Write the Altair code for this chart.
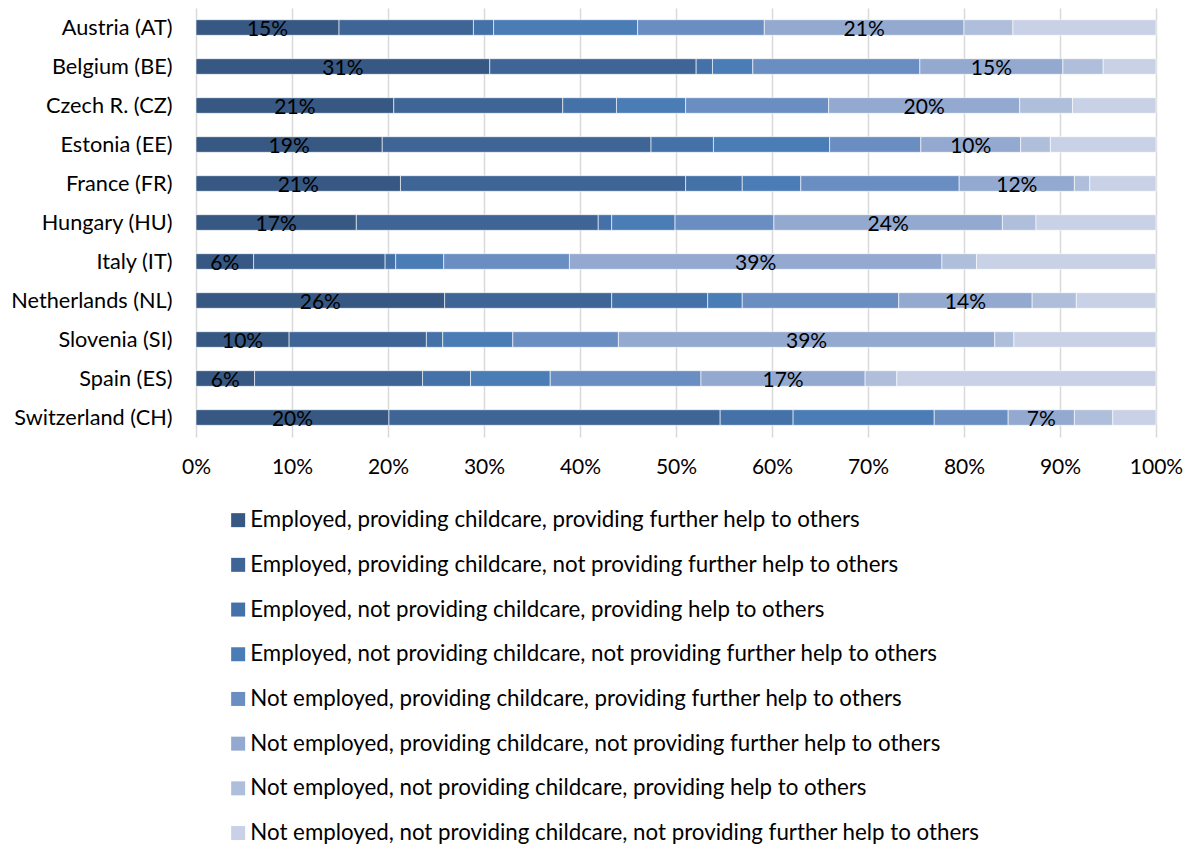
import altair as alt
import pandas as pd

countries = ["Austria (AT)", "Belgium (BE)", "Czech R. (CZ)", "Estonia (EE)", "France (FR)",
             "Hungary (HU)", "Italy (IT)", "Netherlands (NL)", "Slovenia (SI)", "Spain (ES)",
             "Switzerland (CH)"]

series = [
    "Employed, providing childcare, providing further help to others",
    "Employed, providing childcare, not providing further help to others",
    "Employed, not providing childcare, providing help to others",
    "Employed, not providing childcare, not providing further help to others",
    "Not employed, providing childcare, providing further help to others",
    "Not employed, providing childcare, not providing further help to others",
    "Not employed, not providing childcare, providing help to others",
    "Not employed, not providing childcare, not providing further help to others",
]

colors = ["#365883", "#3E6596", "#4471A7", "#4A7CB6", "#6A8EC2", "#93A9D0", "#AFBFDB", "#C8D1E5"]

emp_cc_help      = [14.9, 30.6, 20.6, 19.4, 21.3, 16.7, 6.0, 25.9, 9.7, 6.1, 20.1]
emp_cc_nohelp    = [14.0, 21.5, 17.6, 28.0, 29.7, 25.2, 13.7, 17.4, 14.3, 17.5, 34.5]
emp_nocc_help    = [2.1, 1.7, 5.6, 6.5, 5.9, 1.4, 1.1, 10.0, 1.7, 5.0, 7.6]
emp_nocc_nohelp  = [15.0, 4.2, 7.2, 12.1, 6.1, 6.6, 5.0, 3.6, 7.3, 8.3, 14.7]
nemp_cc_help     = [13.2, 17.4, 14.9, 9.5, 16.5, 10.3, 13.1, 16.3, 11.0, 15.7, 7.7]
nemp_cc_nohelp   = [20.8, 14.9, 19.9, 10.4, 12.0, 23.8, 38.8, 13.9, 39.2, 17.1, 6.9]
nemp_nocc_help   = [5.1, 4.2, 5.5, 3.1, 1.6, 3.5, 3.6, 4.6, 2.0, 3.3, 4.0]
nemp_nocc_nohelp = [14.9, 5.5, 8.7, 11.0, 6.9, 12.5, 18.7, 8.3, 14.8, 27.0, 4.5]

all_series = [emp_cc_help, emp_cc_nohelp, emp_nocc_help, emp_nocc_nohelp,
              nemp_cc_help, nemp_cc_nohelp, nemp_nocc_help, nemp_nocc_nohelp]
labelled = [0, 5]

rows = []
for ci, c in enumerate(countries):
    acc = 0.0
    for si, s in enumerate(series):
        v = all_series[si][ci]
        rows.append({"country": c, "series": s, "start": acc, "end": acc + v,
                     "mid": acc + v / 2, "value": v,
                     "label": f"{round(v)}%" if si in labelled else ""})
        acc += v
df = pd.DataFrame(rows)
df_lab = df[df["label"] != ""]

FONT = "Lato"

y_enc = alt.Y("country:N", sort=countries,
              scale=alt.Scale(paddingInner=0.6, paddingOuter=0.3),
              axis=alt.Axis(title=None, ticks=False, domain=False, labelFontSize=21.7,
                            labelFont=FONT, labelColor="#000000", labelPadding=24,
                            labelLimit=400))

bars = alt.Chart(df).mark_bar(stroke="white", strokeWidth=0.6).encode(
    y=y_enc,
    x=alt.X("start:Q", scale=alt.Scale(domain=[0, 100], nice=False),
            axis=alt.Axis(values=list(range(0, 101, 10)), labelExpr="datum.value + '%'",
                          title=None, grid=True, gridColor="#D9D9D9", gridWidth=1.5,
                          ticks=False, domain=False, labelFontSize=21, labelFont=FONT,
                          labelColor="#000000", labelPadding=19, labelFlush=False)),
    x2="end:Q",
    color=alt.Color("series:N", scale=alt.Scale(domain=series, range=colors),
                    legend=alt.Legend(title=None, orient="none", legendX=31, legendY=501,
                                      direction="vertical", symbolType="square",
                                      symbolSize=196, symbolStrokeWidth=0,
                                      labelFontSize=22.3, labelFont=FONT, labelColor="#000000",
                                      labelLimit=1000, rowPadding=21.7, labelOffset=1)),
    order=alt.Order("start:Q"),
)

labels = alt.Chart(df_lab).mark_text(fontSize=21, font=FONT, color="black", dy=2).encode(
    y=alt.Y("country:N", sort=countries),
    x=alt.X("mid:Q"),
    text="label:N",
)

chart = (bars + labels).properties(
    width=960, height=429,
    padding={"left": 2, "top": 0, "right": 0, "bottom": 0},
).configure_view(stroke=None)

chart.save("out.html", embed_options={"renderer": "svg", "actions": False})
